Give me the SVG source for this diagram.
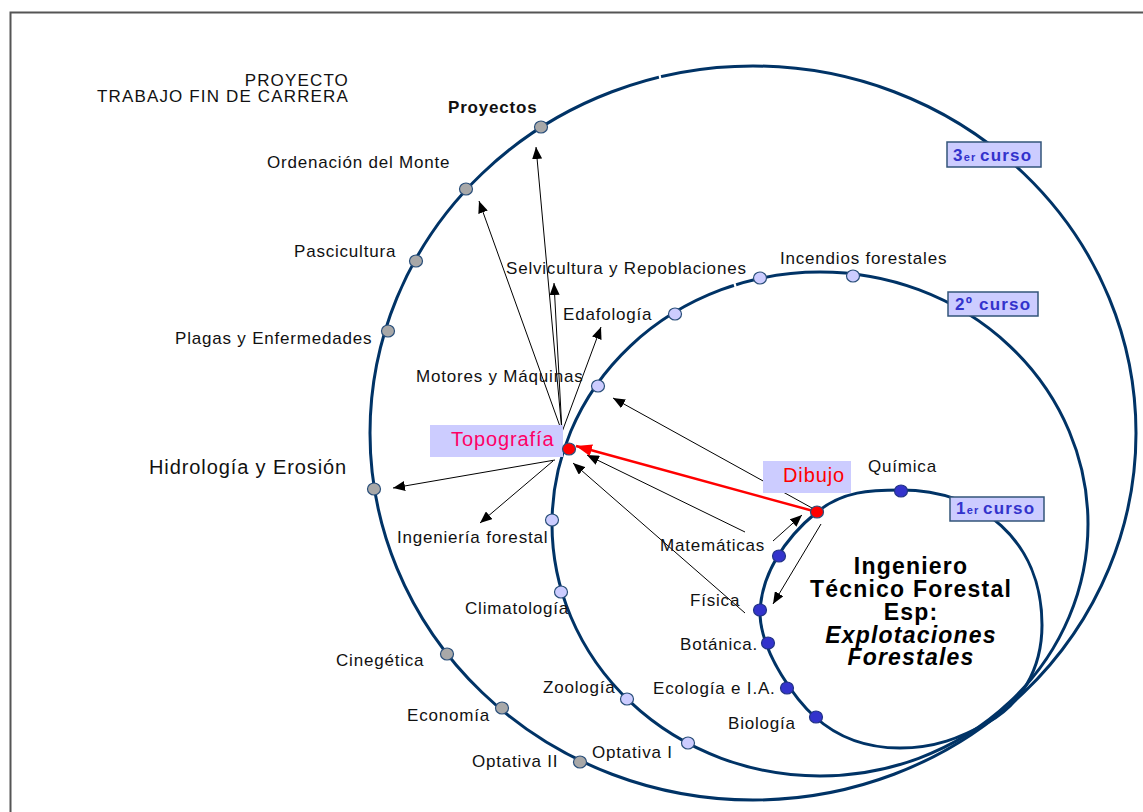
<svg xmlns="http://www.w3.org/2000/svg" width="1143" height="812" viewBox="0 0 1143 812">
<style>
.lbl{font-family:"Liberation Sans",Arial,sans-serif;font-size:17px;letter-spacing:0.8px;fill:#111}
.hdr{font-family:"Liberation Sans",Arial,sans-serif;font-size:17px;letter-spacing:1.15px;fill:#111;text-anchor:end}
.curve{fill:none;stroke:#003366;stroke-width:3}
.gap{stroke:#fff;stroke-width:2.2}
.n3{fill:#a8a8a8;stroke:#2a4f7a;stroke-width:1.2}
.n2{fill:#ccccff;stroke:#2a4f7a;stroke-width:1.2}
.n1{fill:#3333cc;stroke:#223388;stroke-width:1.2}
.nr{fill:#ff0000;stroke:#2a4f7a;stroke-width:1.2}
.box{fill:#ccccff;stroke:#33557a;stroke-width:1.5}
.hl{fill:#ccccff}
.cur{font-family:"Liberation Sans",Arial,sans-serif;font-weight:bold;font-size:17px;letter-spacing:1.2px;fill:#3333cc}
.arr{stroke:#000;stroke-width:1;fill:none;marker-end:url(#ah)}
.title{font-family:"Liberation Sans",Arial,sans-serif;font-weight:bold;font-size:23px;letter-spacing:1.2px;fill:#000;text-anchor:middle}
.big{font-family:"Liberation Sans",Arial,sans-serif;font-size:20px;letter-spacing:0.9px}
</style>
<defs>
<marker id="ah" markerUnits="userSpaceOnUse" markerWidth="12" markerHeight="10" refX="12" refY="5" orient="auto"><path d="M0,0 L12,5 L0,10 z" fill="#000"/></marker>
<marker id="ahr" markerUnits="userSpaceOnUse" markerWidth="17" markerHeight="12" refX="16" refY="6" orient="auto"><path d="M0,0 L16,6 L0,12 z" fill="#ff0000"/></marker>
</defs>
<rect width="1143" height="812" fill="#fff"/>
<path d="M10.5,812 V12.5 H1143" fill="none" stroke="#555" stroke-width="2"/>

<g id="curves">
<ellipse class="curve" cx="753" cy="433" rx="383" ry="367"/>
<ellipse class="curve" cx="820" cy="524" rx="268" ry="252"/>
<path class="curve" d="M901,490 C980,490 1042,540 1042,625 C1042,670 1020,705 987,723 C960,738 935,748 900,748 C862,748 835,735 815,717 C797,701 762,655 760,615 C760,575 785,538 817,512 C843,491 870,490 901,490 Z"/>
<line class="gap" x1="659.1" y1="73.1" x2="660.9" y2="80.9"/>
<line class="gap" x1="733.8" y1="281.2" x2="736.2" y2="288.8"/>
</g>

<g id="connectors">
<line class="arr" x1="562" y1="432" x2="479" y2="201"/>
<line class="arr" x1="562" y1="432" x2="536" y2="147"/>
<line class="arr" x1="562" y1="432" x2="554" y2="283"/>
<line class="arr" x1="562" y1="432" x2="601" y2="327"/>
<line class="arr" x1="555" y1="460" x2="393" y2="488"/>
<line class="arr" x1="553" y1="461" x2="480" y2="523"/>
<line class="arr" x1="745" y1="532" x2="587" y2="455"/>
<line class="arr" x1="745" y1="613" x2="573" y2="463"/>
<line class="arr" x1="812" y1="508" x2="613" y2="398"/>
<line class="arr" x1="773" y1="541" x2="802" y2="515"/>
<line class="arr" x1="821" y1="524" x2="773" y2="604"/>
<line x1="817" y1="512" x2="576" y2="446" stroke="#ff0000" stroke-width="2.5" marker-end="url(#ahr)"/>
</g>

<g id="course3"><rect class="box" x="947" y="142" width="94" height="25"/><text class="cur" x="953" y="161">3<tspan font-size="11">er</tspan><tspan x="980">curso</tspan></text></g>
<g id="course2"><rect class="box" x="948" y="292" width="90" height="24"/><text class="cur" x="955" y="310">2º curso</text></g>
<g id="course1"><rect class="box" x="950" y="497" width="94" height="24"/><text class="cur" x="956" y="514">1<tspan font-size="11">er</tspan><tspan x="983">curso</tspan></text></g>

<g id="header">
<text class="hdr" x="349" y="86">PROYECTO</text>
<text class="hdr" x="349" y="102">TRABAJO FIN DE CARRERA</text>
</g>

<g id="proyectos"><ellipse class="n3" cx="541" cy="127" rx="6.5" ry="6"/><text class="lbl" x="448" y="113" font-weight="bold">Proyectos</text></g>
<g id="ordenacion"><ellipse class="n3" cx="466" cy="189" rx="6.5" ry="6"/><text class="lbl" x="267" y="168">Ordenación del Monte</text></g>
<g id="pascicultura"><ellipse class="n3" cx="416" cy="261" rx="6.5" ry="6"/><text class="lbl" x="294" y="257">Pascicultura</text></g>
<g id="plagas"><ellipse class="n3" cx="388" cy="331" rx="6.5" ry="6"/><text class="lbl" x="175" y="344">Plagas y Enfermedades</text></g>
<g id="hidrologia"><ellipse class="n3" cx="374" cy="489" rx="6.5" ry="6"/><text class="big" x="149" y="474" fill="#111">Hidrología y Erosión</text></g>
<g id="cinegetica"><ellipse class="n3" cx="447" cy="654" rx="6.5" ry="6"/><text class="lbl" x="336" y="666">Cinegética</text></g>
<g id="economia"><ellipse class="n3" cx="502" cy="708" rx="6.5" ry="6"/><text class="lbl" x="407" y="721">Economía</text></g>
<g id="optativa2"><ellipse class="n3" cx="580" cy="762" rx="6.5" ry="6"/><text class="lbl" x="472" y="767">Optativa II</text></g>

<g id="motores"><ellipse class="n2" cx="598" cy="386" rx="6.5" ry="6"/><text class="lbl" x="416" y="382">Motores y Máquinas</text></g>
<g id="edafologia"><ellipse class="n2" cx="675" cy="314" rx="6.5" ry="6"/><text class="lbl" x="563" y="320">Edafología</text></g>
<g id="selvicultura"><ellipse class="n2" cx="760" cy="278" rx="6.5" ry="6"/><text class="lbl" x="506" y="274">Selvicultura y Repoblaciones</text></g>
<g id="incendios"><ellipse class="n2" cx="853" cy="276" rx="6.5" ry="6"/><text class="lbl" x="780" y="264">Incendios forestales</text></g>
<g id="ingenieria"><ellipse class="n2" cx="552" cy="520" rx="6.5" ry="6"/><text class="lbl" x="397" y="543">Ingeniería forestal</text></g>
<g id="climatologia"><ellipse class="n2" cx="561" cy="592" rx="6.5" ry="6"/><text class="lbl" x="465" y="614">Climatología</text></g>
<g id="zoologia"><ellipse class="n2" cx="627" cy="699" rx="6.5" ry="6"/><text class="lbl" x="543" y="693">Zoología</text></g>
<g id="optativa1"><ellipse class="n2" cx="688" cy="743" rx="6.5" ry="6"/><text class="lbl" x="592" y="758">Optativa I</text></g>
<g id="topografia"><rect class="hl" x="430" y="425" width="133" height="32"/><ellipse class="nr" cx="569" cy="449" rx="6.5" ry="6"/><text class="big" x="451" y="446" fill="#ff0066">Topografía</text></g>

<g id="quimica"><ellipse class="n1" cx="901" cy="491" rx="6.5" ry="6"/><text class="lbl" x="868" y="472">Química</text></g>
<g id="matematicas"><ellipse class="n1" cx="779" cy="556" rx="6.5" ry="6"/><text class="lbl" x="660" y="551">Matemáticas</text></g>
<g id="fisica"><ellipse class="n1" cx="760" cy="610" rx="6.5" ry="6"/><text class="lbl" x="690" y="606">Física</text></g>
<g id="botanica"><ellipse class="n1" cx="768" cy="643" rx="6.5" ry="6"/><text class="lbl" x="680" y="650">Botánica.</text></g>
<g id="ecologia"><ellipse class="n1" cx="787" cy="688" rx="6.5" ry="6"/><text class="lbl" x="653" y="694">Ecología e I.A.</text></g>
<g id="biologia"><ellipse class="n1" cx="816" cy="717" rx="6.5" ry="6"/><text class="lbl" x="728" y="729">Biología</text></g>
<g id="dibujo"><rect class="hl" x="763" y="461" width="88" height="32"/><ellipse class="nr" cx="817" cy="512" rx="6.5" ry="6"/><text class="big" x="783" y="482" fill="#ff0000">Dibujo</text></g>

<g id="center">
<text class="title" x="911" y="574">Ingeniero</text>
<text class="title" x="911" y="597">Técnico Forestal</text>
<text class="title" x="911" y="620">Esp:</text>
<text class="title" x="911" y="643" font-style="italic">Explotaciones</text>
<text class="title" x="911" y="665" font-style="italic">Forestales</text>
</g>
</svg>
